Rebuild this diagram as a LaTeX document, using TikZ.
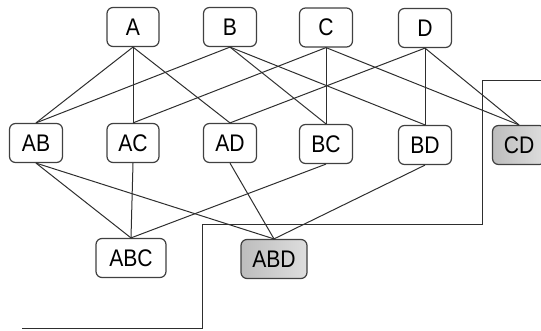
\documentclass[tikz,border=0pt]{standalone}
\usepackage{fontspec}
\setmainfont{Liberation Sans}[FakeStretch=0.88]
\definecolor{ink}{HTML}{2E2E2E}
\definecolor{frame}{HTML}{404040}
\begin{document}
\begin{tikzpicture}[x=1pt,y=-1pt,
  itembox/.style={draw=frame, line width=1.2pt, rounded corners=6pt, fill=white,
    minimum width=53pt, minimum height=39pt, inner xsep=2pt,
    font=\fontsize{24}{24}\selectfont, text=black},
  chosen/.style={left color=black!26, right color=black!13},
  link/.style={draw=ink, line width=1pt},
  border/.style={draw=ink, line width=1pt}]
\useasboundingbox (0,0) rectangle (541,330);

% staircase separator
\draw[border] (22,328) -- (202,328) -- (202,224) -- (482,224) -- (482,80) -- (548,80);

% single items
\node[itembox, minimum width=52pt] (A) at (133,27) {A};
\node[itembox] (B) at (230,27) {B};
\node[itembox] (C) at (326,27.5) {C};
\node[itembox] (D) at (425,28) {D};

% pairs
\node[itembox] (AB) at (36,143) {AB};
\node[itembox, minimum width=52pt] (AC) at (133,143) {AC};
\node[itembox] (AD) at (230,143) {AD};
\node[itembox] (BC) at (326,144) {BC};
\node[itembox] (BD) at (425,145) {BD};
\node[itembox, chosen] (CD) at (519,145) {CD};

% triples
\node[itembox, minimum width=70pt] (ABC) at (131,258) {ABC};
\node[itembox, chosen, minimum width=66pt] (ABD) at (274,259) {ABD};

% lattice edges
\foreach \u/\v in {A/AB, A/AC, A/AD, B/AB, B/BC, B/BD, C/AC, C/BC, C/CD, D/AD, D/BD, D/CD,
                   AB/ABC, AB/ABD, AC/ABC, AD/ABD, BC/ABC, BD/ABD}
  \draw[link] (\u.south) -- (\v.north);
\end{tikzpicture}
\end{document}
